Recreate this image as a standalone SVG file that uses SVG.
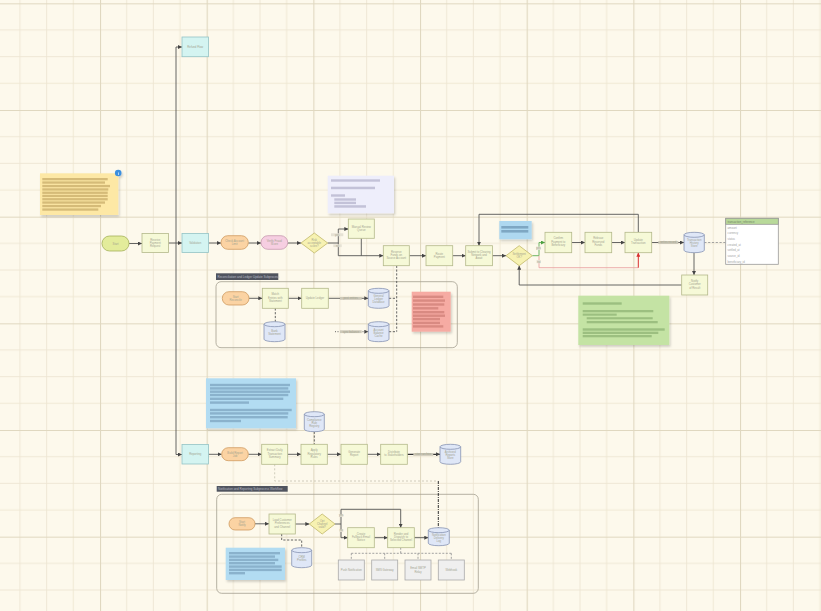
<svg xmlns="http://www.w3.org/2000/svg" width="821" height="611" viewBox="0 0 821 611">
<defs>
<pattern id="grid" patternUnits="userSpaceOnUse" x="-6.667" y="3.333" width="106.667" height="106.667">
<path d="M26.667 0V106.667M53.333 0V106.667M80 0V106.667M0 26.667H106.667M0 53.333H106.667M0 80H106.667" stroke="#ede6d1" stroke-width="0.9" fill="none"/>
<path d="M0.5 0V106.667M0 0.5H106.667" stroke="#e0d8c0" stroke-width="1.2" fill="none"/>
</pattern>
<filter id="sh" x="-10%" y="-10%" width="130%" height="130%"><feDropShadow dx="1.2" dy="1.8" stdDeviation="1" flood-color="#000" flood-opacity="0.18"/></filter>
<marker id="ar" viewBox="0 0 6 6" refX="6" refY="3" markerWidth="4" markerHeight="4" markerUnits="userSpaceOnUse" orient="auto"><path d="M0 0L6 3L0 6Z" fill="#444"/></marker>
<marker id="arg" viewBox="0 0 6 6" refX="6" refY="3" markerWidth="4" markerHeight="4" markerUnits="userSpaceOnUse" orient="auto"><path d="M0 0L6 3L0 6Z" fill="#4aa040"/></marker>
<marker id="arr" viewBox="0 0 6 6" refX="6" refY="3" markerWidth="4" markerHeight="4" markerUnits="userSpaceOnUse" orient="auto"><path d="M0 0L6 3L0 6Z" fill="#d83030"/></marker>
<style>
.box{fill:#f6f9d7;stroke:#b4b98a;stroke-width:0.8}
.cyan{fill:#d4f4f1;stroke:#93c3c5;stroke-width:0.8}
.po{fill:#fbd3a3;stroke:#cf9b60;stroke-width:0.8}
.pp{fill:#f6cee1;stroke:#c698ae;stroke-width:0.8}
.pg{fill:#e3ec9b;stroke:#a4b15a;stroke-width:0.8}
.dia{fill:#f7f2b2;stroke:#c0b86a;stroke-width:0.8}
.db{fill:#dfe7f7;stroke:#8793b3;stroke-width:0.8}
.dbl{fill:none;stroke:#8793b3;stroke-width:0.8}
.gray{fill:#efefef;stroke:#aaaaaa;stroke-width:0.8}
.grp{fill:none;stroke:#a39e8f;stroke-width:0.8}
.gl{fill:#50545f}
.t{font-family:"Liberation Sans",Arial,sans-serif;font-size:2.8px;fill:#a3a38f;text-anchor:middle}
.tw{font-family:"Liberation Sans",Arial,sans-serif;font-size:3px;fill:#b9bcc4}
.tl{font-family:"Liberation Sans",Arial,sans-serif;font-size:2.8px;fill:#a0a0a0}
.c{fill:none;stroke:#555;stroke-width:0.9}
.m{marker-end:url(#ar)}
.d{stroke-dasharray:2.2 1.6}
.lb{fill:#ccc8b8}
.lbs{fill:#e6e2d4}
.note{filter:url(#sh)}
</style>
</defs>
<rect width="821" height="611" fill="#fdf9ec"/>
<rect width="821" height="611" fill="url(#grid)"/>

<!-- notes -->
<g id="note-yellow" class="note">
<rect x="40" y="173.3" width="78.3" height="41.7" fill="#fde8a5"/>
<g fill="#d5bb78"><rect x="42.3" y="178" width="65.4" height="2.3"/><rect x="42.3" y="181.4" width="62.7" height="2.3"/><rect x="42.3" y="184.9" width="67.7" height="2.3"/><rect x="42.3" y="188.3" width="66" height="2.3"/><rect x="42.3" y="191.6" width="65.4" height="2.3"/><rect x="42.3" y="194.8" width="65.4" height="2.3"/><rect x="42.3" y="198.1" width="65.4" height="2.3"/><rect x="42.3" y="201.4" width="62.7" height="2.3"/><rect x="42.3" y="204.9" width="58.7" height="2.3"/><rect x="42.3" y="208.4" width="56" height="2.3"/></g>
<circle cx="118.2" cy="173" r="3.3" fill="#3b8fe0"/>
<text x="118.2" y="174.5" font-family="Liberation Sans,sans-serif" font-size="4" font-weight="bold" fill="#fff" text-anchor="middle">i</text>
</g>
<g id="note-lavender" class="note">
<rect x="327.7" y="175.7" width="66.3" height="37.6" fill="#eeeefb"/>
<g fill="#c3c2d8"><rect x="331" y="179.3" width="49" height="2.4"/><rect x="331" y="186.7" width="44" height="2.5"/><rect x="331" y="194.3" width="14" height="2.4"/><rect x="334.3" y="198.3" width="21.7" height="2.4"/><rect x="334.3" y="201.7" width="21.7" height="2.4"/><rect x="334.3" y="205.2" width="31.7" height="2.5"/></g>
</g>
<g id="note-blue-top" class="note">
<rect x="499.3" y="221" width="32.4" height="18.3" fill="#aed8f0"/>
<g fill="#7ea7c3"><rect x="501.3" y="226" width="27" height="2.6"/><rect x="501.3" y="230" width="27" height="2.6"/></g>
</g>
<g id="note-green" class="note">
<rect x="578.3" y="295.7" width="91" height="49.3" fill="#c4e3a4"/>
<g fill="#9cbf80"><rect x="582.7" y="302.3" width="39" height="2.4"/><rect x="582.7" y="310" width="70.6" height="2.3"/><rect x="582.7" y="313.6" width="34" height="2.1"/><rect x="586.7" y="317.2" width="66" height="2.1"/><rect x="586.7" y="321" width="71" height="2.3"/><rect x="582.7" y="328.3" width="82" height="2.4"/><rect x="582.7" y="331.7" width="75.6" height="2.3"/><rect x="582.7" y="335" width="69" height="2.3"/></g>
</g>
<g id="note-red" class="note">
<rect x="411.7" y="291.7" width="39" height="40" fill="#f6aba3"/>
<g fill="#d98a82"><rect x="413" y="295.6" width="30.3" height="2.4"/><rect x="413" y="299.4" width="32" height="2.4"/><rect x="413" y="303.3" width="31.3" height="2.4"/><rect x="413" y="307.1" width="25.3" height="2.4"/><rect x="413" y="311" width="31.3" height="2.4"/><rect x="413" y="314.5" width="32" height="2.4"/><rect x="413" y="317.9" width="27" height="2.4"/><rect x="413" y="321.7" width="27" height="2.4"/><rect x="413" y="325.2" width="30.3" height="2.4"/></g>
</g>
<g id="note-blue-mid" class="note">
<rect x="206" y="378.3" width="90" height="50" fill="#b2dcf2"/>
<g fill="#8ab2cc"><rect x="210" y="383.8" width="80" height="2.4"/><rect x="210" y="387.2" width="78.3" height="2.4"/><rect x="210" y="390.5" width="80" height="2.4"/><rect x="210" y="393.8" width="78.3" height="2.4"/><rect x="210" y="397.6" width="73.3" height="2.4"/><rect x="210" y="401.4" width="39" height="2.4"/><rect x="210" y="408.8" width="81.7" height="2.4"/><rect x="210" y="412.2" width="78.3" height="2.4"/><rect x="210" y="416" width="77.7" height="2.4"/><rect x="210" y="419.8" width="31" height="2.4"/></g>
</g>
<g id="note-blue-low" class="note">
<rect x="225.7" y="547.7" width="59.3" height="32.3" fill="#b2dcf2"/>
<g fill="#8ab2cc"><rect x="229" y="552" width="51" height="2.4"/><rect x="229" y="555.4" width="46" height="2.4"/><rect x="229" y="558.7" width="49.3" height="2.4"/><rect x="229" y="562" width="46" height="2.4"/><rect x="229" y="565.4" width="52.7" height="2.4"/><rect x="229" y="568.7" width="52.7" height="2.4"/><rect x="229" y="572" width="16" height="2.4"/></g>
</g>

<!-- groups / containers -->
<g id="group-1">
<rect class="grp" x="216" y="281.7" width="241.3" height="66" rx="5"/>
<rect class="gl" x="216" y="273.3" width="62.3" height="6.7"/>
<text class="tw" x="217.5" y="277.8">Reconciliation and Ledger Update Subprocess</text>
</g>
<g id="group-2">
<rect class="grp" x="216.7" y="494.3" width="261.6" height="99" rx="5"/>
<rect class="gl" x="216.7" y="486" width="71" height="5.7"/>
<text class="tw" x="218" y="490">Notification and Reporting Subprocess Workflow</text>
</g>

<!-- connectors -->
<g id="connectors">
<path class="c m" d="M129 243.5H142"/>
<path class="c m" d="M168.5 243H182"/>
<path class="c m" d="M176 243V47H182"/>
<path class="c m" d="M176 243V454.5H182"/>
<path class="c m" d="M208.5 243H221"/>
<path class="c m" d="M248.3 243H261"/>
<path class="c m" d="M287.7 243H301"/>
<path class="c m" d="M327.7 243H338.3V229H348.3"/>
<path class="c m" d="M338.3 243V255.7H383.3"/>
<path class="c" d="M361.3 238.3V255.7"/>
<rect class="lbs" x="331" y="233.3" width="12.3" height="2.9"/><text class="t" x="337.2" y="235.7">yes</text>
<rect class="lbs" x="333.3" y="244.3" width="8.4" height="2.8"/><text class="t" x="337.5" y="246.6">no</text>
<path class="c m" d="M409.3 255.7H426"/>
<path class="c m" d="M452.7 255.7H465.7"/>
<path class="c m" d="M492.3 255.7H506"/>
<path class="c m" d="M638.3 232.3V214.3H479V245.7"/>
<path fill="none" stroke="#5fae55" stroke-width="0.9" marker-end="url(#arg)" d="M532.3 255.7H539V242.5H545"/>
<path fill="none" stroke="#eaa5a5" stroke-width="0.9" d="M539 255.7V267.7H638.3"/>
<path fill="none" stroke="#d83030" stroke-width="1" marker-end="url(#arr)" d="M638.3 267.7V252.7"/>
<rect class="lbs" x="536" y="246.6" width="5" height="3.2"/><text class="t" x="538.5" y="249">yes</text>
<rect class="lbs" x="536.6" y="260" width="4.2" height="3.2"/><text class="t" x="538.7" y="262.5">no</text>
<path class="c m" d="M571.7 242.5H585"/>
<path class="c m" d="M611.7 242.5H625"/>
<path class="c m" d="M651.7 242.5H684"/>
<rect class="lb" x="658.3" y="241" width="20" height="3"/><text class="t" x="668.3" y="243.3">writes record</text>
<path fill="none" stroke="#9a9a9a" stroke-width="0.9" stroke-dasharray="2.2 1.6" d="M704.3 242.5H725.7"/>
<path class="c m" d="M694 252.7V275"/>
<path class="c m" d="M681.7 285H519.2V265.7"/>
<!-- group 1 -->
<path class="c m" d="M249 298.3H262.3"/>
<path class="c m" d="M288.3 298.3H301.7"/>
<path class="c m" d="M328.3 298.3H368.3"/>
<rect class="lb" x="340" y="297" width="21.7" height="2.8"/><text class="t" x="350.8" y="299.2">post entries</text>
<path class="c d" d="M275.3 308.3V321.7"/>
<path class="c m" style="stroke-dasharray:1 1.5" d="M335 331.7H368.3"/>
<rect class="lb" x="340" y="330.3" width="21.7" height="2.8"/><text class="t" x="350.8" y="332.5">sync balance</text>
<path class="c d" d="M396.7 265.7V331.7M389 298.3H396.7M389 331.7H396.7"/>
<!-- lower row -->
<path class="c m" d="M208.5 454.3H221.7"/>
<path class="c m" d="M248.3 454.3H261.7"/>
<path class="c m" d="M287.7 454.3H301"/>
<path class="c m" d="M327.3 454.3H341"/>
<path class="c m" d="M367.3 454.3H380.7"/>
<path class="c m" style="stroke-width:1.2;stroke:#333" d="M407.3 454.3H440"/>
<rect class="lb" x="413.3" y="453" width="20" height="2.8"/><text class="t" x="423.3" y="455.2">store archive</text>
<path class="c d" d="M314.3 431.7V444.3"/>
<path fill="none" stroke="#c4c0b0" stroke-width="0.8" stroke-dasharray="2 2" d="M274.7 464.3V481H438.3"/>
<path fill="none" stroke="#333" stroke-width="1" stroke-dasharray="3 1 1 1" d="M438.3 481V527.7"/>
<!-- group 2 -->
<path class="c m" d="M255 523.8H269"/>
<path class="c m" d="M295.3 524H309.3"/>
<path class="c m" d="M335 524H341V509.3H400.7V527.7"/>
<path class="c m" d="M341 524V537.7H347.7"/>
<rect class="lbs" x="339.3" y="514.3" width="4" height="2.6"/><text class="t" x="341.3" y="516.4">yes</text>
<rect class="lbs" x="339.3" y="529.3" width="4" height="2.6"/><text class="t" x="341.3" y="531.4">no</text>
<path class="c m" d="M374.3 537.7H387.7"/>
<path class="c m" d="M414.3 537.7H428.3"/>
<path class="c d" d="M281.7 534V540H301.7V547.7"/>
<path fill="none" stroke="#999" stroke-width="0.9" stroke-dasharray="2 1.5" d="M400.7 547.7V553.3M351.3 553.3H451.3M351.3 553.3V560M384.7 553.3V560M418 553.3V560M451.3 553.3V560"/>
</g>

<!-- nodes -->
<g id="n-start"><rect class="pg" x="102" y="236" width="27" height="15" rx="7.5"/><text class="t" x="115.5" y="244.5">Start</text></g>
<g id="n-receive"><rect class="box" x="142" y="233.5" width="26.5" height="19"/><text class="t" x="155.2" y="240.5">Receive</text><text class="t" x="155.2" y="243.8">Payment</text><text class="t" x="155.2" y="247.1">Request</text></g>
<g id="n-top"><rect class="cyan" x="182" y="37" width="26.5" height="19.7"/><text class="t" x="195.2" y="47.8">Refund Flow</text></g>
<g id="n-main"><rect class="cyan" x="182" y="233.5" width="26.5" height="19"/><text class="t" x="195.2" y="244">Validation</text></g>
<g id="n-o1"><rect class="po" x="221" y="235.7" width="27.3" height="13.6" rx="6.8"/><text class="t" x="234.6" y="241.8">Check Account</text><text class="t" x="234.6" y="245">Limit</text></g>
<g id="n-pk"><rect class="pp" x="261" y="235.7" width="26.7" height="13.6" rx="6.8"/><text class="t" x="274.3" y="241.8">Verify Fraud</text><text class="t" x="274.3" y="245">Score</text></g>
<g id="n-d1"><path class="dia" d="M301 243L314.3 233L327.7 243L314.3 253Z"/><text class="t" x="314.3" y="240.5">Risk</text><text class="t" x="314.3" y="243.5">acceptable</text><text class="t" x="314.3" y="246.5">score?</text></g>
<g id="n-A"><rect class="box" x="348.3" y="219" width="26" height="19.3"/><text class="t" x="361.3" y="227.5">Manual Review</text><text class="t" x="361.3" y="230.8">Queue</text></g>
<g id="n-B"><rect class="box" x="383.3" y="245.7" width="26" height="20"/><text class="t" x="396.3" y="252.5">Reserve</text><text class="t" x="396.3" y="255.8">Funds on</text><text class="t" x="396.3" y="259.1">Source Account</text></g>
<g id="n-C"><rect class="box" x="426" y="245.7" width="26.7" height="20"/><text class="t" x="439.3" y="254.5">Route</text><text class="t" x="439.3" y="257.8">Payment</text></g>
<g id="n-D"><rect class="box" x="465.7" y="245.7" width="26.7" height="20"/><text class="t" x="479" y="252.5">Submit to Clearing</text><text class="t" x="479" y="255.8">Network and</text><text class="t" x="479" y="259.1">Await</text></g>
<g id="n-d2"><path class="dia" d="M506 255.7L519.2 245.7L532.3 255.7L519.2 265.7Z"/><text class="t" x="519.2" y="255">Settlement</text><text class="t" x="519.2" y="258.2">OK?</text></g>
<g id="n-E"><rect class="box" x="545" y="232.3" width="26.7" height="20.4"/><text class="t" x="558.3" y="239.3">Confirm</text><text class="t" x="558.3" y="242.6">Payment to</text><text class="t" x="558.3" y="245.9">Beneficiary</text></g>
<g id="n-F"><rect class="box" x="585" y="232.3" width="26.7" height="20.4"/><text class="t" x="598.3" y="239.3">Release</text><text class="t" x="598.3" y="242.6">Reserved</text><text class="t" x="598.3" y="245.9">Funds</text></g>
<g id="n-G"><rect class="box" x="625" y="232.3" width="26.7" height="20.4"/><text class="t" x="638.3" y="241">Update</text><text class="t" x="638.3" y="244.3">Transaction</text></g>
<g id="n-db1"><path class="db" d="M684 234.8A10.15 2.5 0 0 1 704.3 234.8V250.2A10.15 2.5 0 0 1 684 250.2Z"/><path class="dbl" d="M684 234.8A10.15 2.5 0 0 0 704.3 234.8"/><text class="t" x="694.2" y="241">Transaction</text><text class="t" x="694.2" y="244.2">History</text><text class="t" x="694.2" y="247.4">Store</text></g>
<g id="n-table"><rect x="725.7" y="218.3" width="52.6" height="46" fill="#fff" stroke="#999" stroke-width="0.8"/><rect x="725.7" y="218.3" width="52.6" height="6" fill="#b8d99a" stroke="#999" stroke-width="0.8"/><text class="tl" x="727.5" y="222.5" style="fill:#6f7f64">transaction_reference</text>
<g><text class="tl" x="727.5" y="228.5">amount</text><text class="tl" x="727.5" y="234.2">currency</text><text class="tl" x="727.5" y="239.9">status</text><text class="tl" x="727.5" y="245.6">created_at</text><text class="tl" x="727.5" y="251.3">settled_at</text><text class="tl" x="727.5" y="257">source_id</text><text class="tl" x="727.5" y="262.7">beneficiary_id</text></g></g>
<g id="n-H"><rect class="box" x="681.7" y="275" width="26" height="20"/><text class="t" x="694.7" y="282">Notify</text><text class="t" x="694.7" y="285.3">Customer</text><text class="t" x="694.7" y="288.6">of Result</text></g>

<g id="n-g1o"><rect class="po" x="222.3" y="291.7" width="26.7" height="13.3" rx="6.6"/><text class="t" x="235.6" y="297.6">Start</text><text class="t" x="235.6" y="300.8">Reconcile</text></g>
<g id="n-g1b1"><rect class="box" x="262.3" y="288.3" width="26" height="20"/><text class="t" x="275.3" y="295.3">Match</text><text class="t" x="275.3" y="298.6">Entries with</text><text class="t" x="275.3" y="301.9">Statement</text></g>
<g id="n-g1b2"><rect class="box" x="301.7" y="288.3" width="26.6" height="20"/><text class="t" x="315" y="299.2">Update Ledger</text></g>
<g id="n-g1db1"><path class="db" d="M368.3 290.8A10.35 2.5 0 0 1 389 290.8V305.8A10.35 2.5 0 0 1 368.3 305.8Z"/><path class="dbl" d="M368.3 290.8A10.35 2.5 0 0 0 389 290.8"/><text class="t" x="378.6" y="297">General</text><text class="t" x="378.6" y="300.2">Ledger</text><text class="t" x="378.6" y="303.4">Database</text></g>
<g id="n-g1db2"><path class="db" d="M264 324.2A10.5 2.5 0 0 1 285 324.2V339.2A10.5 2.5 0 0 1 264 339.2Z"/><path class="dbl" d="M264 324.2A10.5 2.5 0 0 0 285 324.2"/><text class="t" x="274.5" y="332">Bank</text><text class="t" x="274.5" y="335.2">Statement</text></g>
<g id="n-g1db3"><path class="db" d="M368.3 324.2A10.35 2.5 0 0 1 389 324.2V339.2A10.35 2.5 0 0 1 368.3 339.2Z"/><path class="dbl" d="M368.3 324.2A10.35 2.5 0 0 0 389 324.2"/><text class="t" x="378.6" y="330.5">Account</text><text class="t" x="378.6" y="333.7">Balance</text><text class="t" x="378.6" y="336.9">Cache</text></g>

<g id="n-low"><rect class="cyan" x="182" y="444.5" width="26.5" height="19.5"/><text class="t" x="195.2" y="455.2">Reporting</text></g>
<g id="n-lo"><rect class="po" x="221.7" y="447.7" width="26.6" height="13" rx="6.5"/><text class="t" x="235" y="453.5">Build Report</text><text class="t" x="235" y="456.7">Job</text></g>
<g id="n-lb1"><rect class="box" x="261.7" y="444.3" width="26" height="20"/><text class="t" x="274.7" y="451.3">Extract Daily</text><text class="t" x="274.7" y="454.6">Transaction</text><text class="t" x="274.7" y="457.9">Summary</text></g>
<g id="n-lb2"><rect class="box" x="301" y="444.3" width="26.3" height="20"/><text class="t" x="314.2" y="451.3">Apply</text><text class="t" x="314.2" y="454.6">Regulatory</text><text class="t" x="314.2" y="457.9">Rules</text></g>
<g id="n-lb3"><rect class="box" x="341" y="444.3" width="26.3" height="20"/><text class="t" x="354.2" y="453">Generate</text><text class="t" x="354.2" y="456.3">Report</text></g>
<g id="n-lb4"><rect class="box" x="380.7" y="444.3" width="26.6" height="20"/><text class="t" x="394" y="453">Distribute</text><text class="t" x="394" y="456.3">to Stakeholders</text></g>
<g id="n-ldb0"><path class="db" d="M304.3 414.2A10 2.5 0 0 1 324.3 414.2V429.2A10 2.5 0 0 1 304.3 429.2Z"/><path class="dbl" d="M304.3 414.2A10 2.5 0 0 0 324.3 414.2"/><text class="t" x="314.3" y="420.5">Compliance</text><text class="t" x="314.3" y="423.7">Rule</text><text class="t" x="314.3" y="426.9">Registry</text></g>
<g id="n-ldb"><path class="db" d="M440 446.8A10.35 2.5 0 0 1 460.7 446.8V461.8A10.35 2.5 0 0 1 440 461.8Z"/><path class="dbl" d="M440 446.8A10.35 2.5 0 0 0 460.7 446.8"/><text class="t" x="450.3" y="453">Archived</text><text class="t" x="450.3" y="456.2">Reports</text><text class="t" x="450.3" y="459.4">Store</text></g>

<g id="n-g2o"><rect class="po" x="229" y="517.7" width="26" height="12.3" rx="6.1"/><text class="t" x="242" y="523.2">Start</text><text class="t" x="242" y="526.4">Notify</text></g>
<g id="n-g2b1"><rect class="box" x="269" y="514" width="26.3" height="20"/><text class="t" x="282.2" y="521">Load Customer</text><text class="t" x="282.2" y="524.3">Preferences</text><text class="t" x="282.2" y="527.6">and Channel</text></g>
<g id="n-g2d"><path class="dia" d="M309.3 524L322.2 514L335 524L322.2 534Z"/><text class="t" x="322.2" y="521.5">Opt</text><text class="t" x="322.2" y="524.5">Channel</text><text class="t" x="322.2" y="527.5">valid?</text></g>
<g id="n-g2P"><rect class="box" x="347.7" y="527.7" width="26.6" height="20"/><text class="t" x="361" y="534.7">Create</text><text class="t" x="361" y="538">Fallback Email</text><text class="t" x="361" y="541.3">Notice</text></g>
<g id="n-g2Q"><rect class="box" x="387.7" y="527.7" width="26.6" height="20"/><text class="t" x="401" y="534.7">Render and</text><text class="t" x="401" y="538">Dispatch to</text><text class="t" x="401" y="541.3">Selected Channel</text></g>
<g id="n-g2db"><path class="db" d="M428.3 530.2A10.5 2.5 0 0 1 449.3 530.2V543.2A10.5 2.5 0 0 1 428.3 543.2Z"/><path class="dbl" d="M428.3 530.2A10.5 2.5 0 0 0 449.3 530.2"/><text class="t" x="438.8" y="535.5">Notification</text><text class="t" x="438.8" y="538.7">Delivery</text><text class="t" x="438.8" y="541.9">Log</text></g>
<g id="n-g2db2"><path class="db" d="M291.7 550.2A10 2.5 0 0 1 311.7 550.2V565.2A10 2.5 0 0 1 291.7 565.2Z"/><path class="dbl" d="M291.7 550.2A10 2.5 0 0 0 311.7 550.2"/><text class="t" x="301.7" y="558">CRM</text><text class="t" x="301.7" y="561.2">Profiles</text></g>
<g id="n-gr1"><rect class="gray" x="338.3" y="560" width="26" height="20"/><text class="t" x="351.3" y="571">Push Notification</text></g>
<g id="n-gr2"><rect class="gray" x="371.7" y="560" width="26" height="20"/><text class="t" x="384.7" y="571">SMS Gateway</text></g>
<g id="n-gr3"><rect class="gray" x="405" y="560" width="26" height="20"/><text class="t" x="418" y="569.3">Email SMTP</text><text class="t" x="418" y="572.6">Relay</text></g>
<g id="n-gr4"><rect class="gray" x="438.3" y="560" width="26" height="20"/><text class="t" x="451.3" y="571">Webhook</text></g>
</svg>
